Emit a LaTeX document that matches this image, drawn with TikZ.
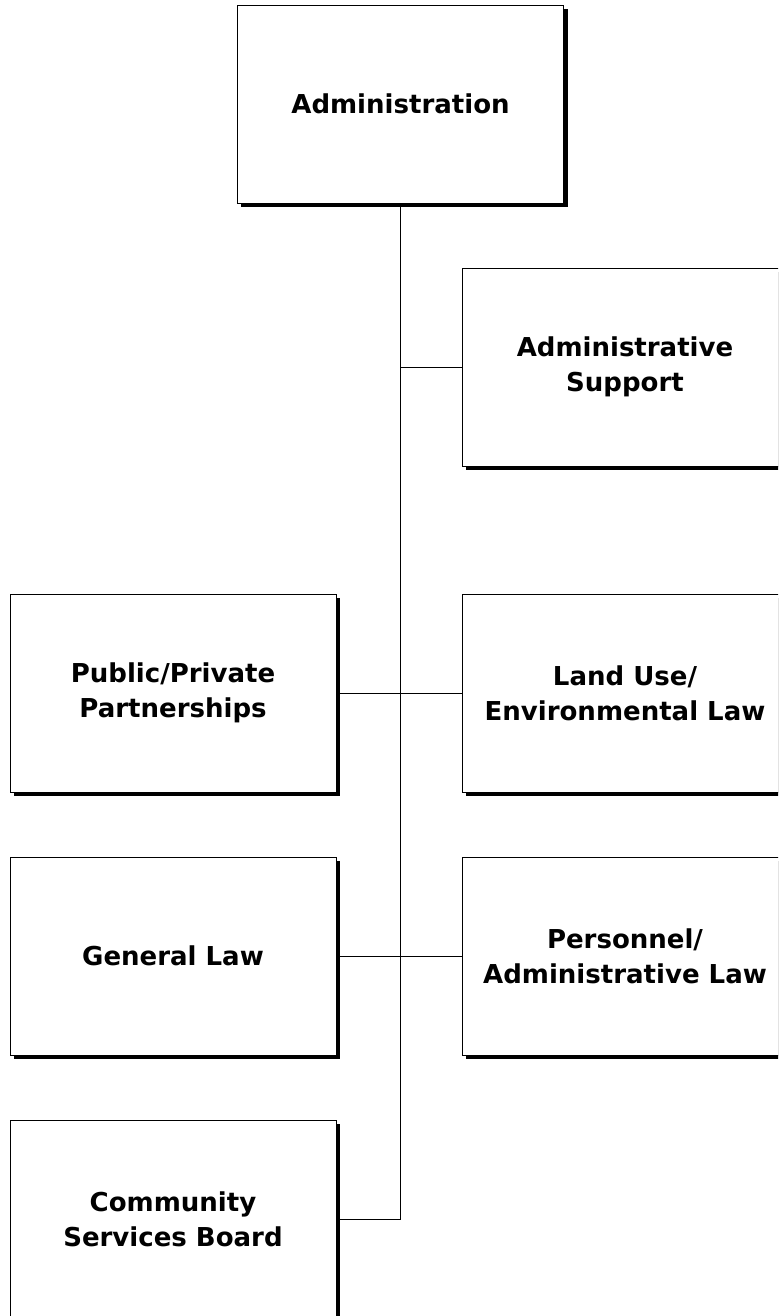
\documentclass[tikz,border=0pt]{standalone}
\usepackage{fontspec}
\setmainfont{DejaVu Sans}
\usetikzlibrary{calc}
\usetikzlibrary{shadows}

\begin{document}
\begin{tikzpicture}[x=0.025cm, y=-0.025cm,
  unit/.style={draw, line width=0.5pt, fill=white, minimum width=8.15cm, minimum height=4.95cm,
    align=center, font=\fontsize{18.5}{25}\selectfont\bfseries,
    drop shadow={shadow xshift=0.1cm, shadow yshift=-0.1cm, fill=black, opacity=1}},
  link/.style={black, line width=0.7pt}]
\useasboundingbox (0,0) rectangle (778,1316);
\clip (0,0) rectangle (778,1316);
\node[unit] (adm)  at (400.5,104) {Administration};
\node[unit] (sup)  at (625,367)   {Administrative\\Support};
\node[unit] (ppp)  at (173,693)   {Public/Private\\Partnerships};
\node[unit] (land) at (625,693)   {Land Use/\\Environmental Law};
\node[unit] (gen)  at (173,956)   {General Law};
\node[unit] (pers) at (625,956)   {Personnel/\\Administrative Law};
\node[unit] (csb)  at (173,1219)  {Community\\Services Board};
\coordinate (end) at (adm.south |- csb.east);
\draw[link] (adm.south) -- (end) -- (csb.east);
\foreach \n in {sup, land, pers} {
 \draw[link] (\n.west) -- (\n.west -| adm.south);
}
\foreach \n in {ppp, gen} {
 \draw[link] (\n.east) -- (\n.east -| adm.south);
}
\end{tikzpicture}
\end{document}
